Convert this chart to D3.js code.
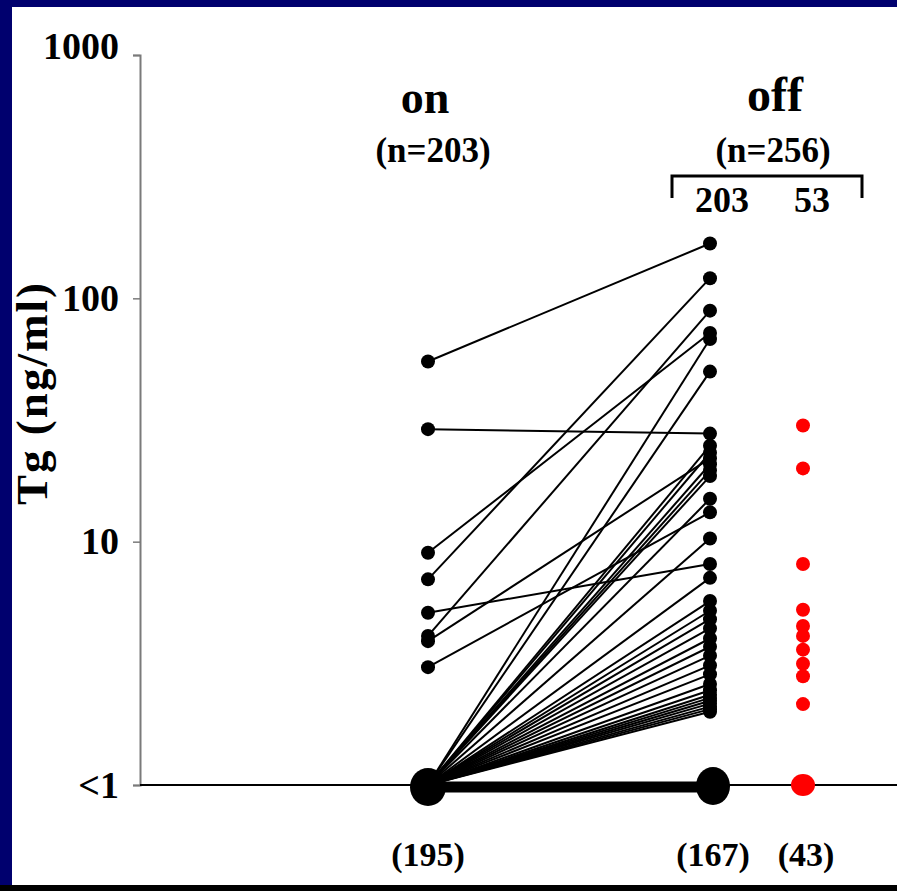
<!DOCTYPE html>
<html><head><meta charset="utf-8">
<script src="https://cdn.jsdelivr.net/npm/d3@7"></script>
<style>body{margin:0;background:#00006e;overflow:hidden}svg{display:block}</style>
</head><body>
<svg id="c" width="897" height="891"></svg>
<script>
// ---- data ----
const columns = ["on", "off", "offNew"];
const columnHeaders = ["on", "off"];
const groupCounts = ["(n=203)", "(n=256)"];
const subGroupLabels = ["203", "53"];
const undetectableLabels = ["(195)", "(167)", "(43)"];
const tickValues = [1000, 100, 10, 1];
const tickLabels = ["1000", "100", "10", "<1"];
const yLabel = "Tg (ng/ml)";
// patients detectable on T4 -> value off T4
const onDetectable = [55, 29, 9, 7, 5.1, 4.1, 3.9, 3.05];
const offOfOnDetectable = [168, 27.8, 72, 121, 8.1, 89, 22, 13.2];
// patients <1 on T4 -> value off T4
const offFromUndetectable = [68, 50, 24.8, 23.2, 20.8, 19.6, 18.6, 15, 10.3, 7.1,
  5.7, 5.2, 4.8, 4.4, 4.0, 3.7, 3.4, 3.1, 2.85, 2.6, 2.45, 2.35, 2.28, 2.22, 2.16, 2.1, 2.05, 2.0];
// additional 53 patients off only
const offNewValues = [30, 20, 8.1, 5.25, 4.5, 4.1, 3.6, 3.15, 2.8, 2.15];
const undetectable = 1;

// ---- drawing ----
const svg = d3.select("#c");
const W = 897, H = 891;
svg.append("rect").attr("width", W).attr("height", H).attr("fill", "#00006e");
svg.append("rect").attr("x", 12).attr("y", 7).attr("width", W - 12).attr("height", 878).attr("fill", "#ffffff");
svg.append("rect").attr("x", 0).attr("y", 885).attr("width", W).attr("height", 6).attr("fill", "#000000");

const font = "'Liberation Serif','Times New Roman',serif";
const y = d3.scaleLog().domain([1, 1000]).range([785, 55]);
const x = d3.scaleOrdinal().domain(columns).range([428, 710, 803]);

// y axis
const axis = svg.append("g").attr("transform", "translate(140,0)")
  .call(d3.axisLeft(y).tickValues(tickValues).tickSize(7).tickPadding(14)
    .tickFormat((d, i) => tickLabels[i]));
axis.select(".domain").attr("stroke", "#7a7a7a").attr("stroke-width", 2);
axis.selectAll(".tick line").attr("stroke", "#7a7a7a").attr("stroke-width", 1.5);
axis.selectAll(".tick text").attr("fill", "#000").attr("font-family", font)
  .attr("font-weight", "bold").attr("font-size", 38);
axis.selectAll(".tick text").filter(d => d === 1000).attr("dy", "0.08em");

svg.append("text").attr("transform", "translate(47,394) rotate(-90)")
  .attr("text-anchor", "middle").attr("font-family", font).attr("font-weight", "bold")
  .attr("font-size", 45).attr("textLength", 222).attr("lengthAdjust", "spacing")
  .text(yLabel);

// baseline at <1
svg.append("line").attr("x1", 140).attr("x2", W).attr("y1", y(undetectable)).attr("y2", y(undetectable))
  .attr("stroke", "#000").attr("stroke-width", 2);
// thick band of <1 -> <1 patients
svg.append("line").attr("x1", x("on")).attr("x2", x("off"))
  .attr("y1", y(undetectable) + 2).attr("y2", y(undetectable) + 2)
  .attr("stroke", "#000").attr("stroke-width", 11);

// connecting lines
const links = onDetectable.map((v, i) => ({a: v, b: offOfOnDetectable[i]}))
  .concat(offFromUndetectable.map(v => ({a: undetectable, b: v})));
svg.append("g").selectAll("line").data(links).join("line")
  .attr("x1", x("on")).attr("y1", d => y(d.a))
  .attr("x2", x("off")).attr("y2", d => y(d.b))
  .attr("stroke", "#000").attr("stroke-width", 2);

// detectable dots
svg.append("g").selectAll("circle").data(onDetectable).join("circle")
  .attr("cx", x("on")).attr("cy", d => y(d)).attr("r", 7).attr("fill", "#000");
svg.append("g").selectAll("circle").data(offOfOnDetectable.concat(offFromUndetectable)).join("circle")
  .attr("cx", x("off")).attr("cy", d => y(d)).attr("r", 7).attr("fill", "#000");
svg.append("g").selectAll("circle").data(offNewValues).join("circle")
  .attr("cx", x("offNew")).attr("cy", d => y(d)).attr("r", 7).attr("fill", "#ff0000");

// undetectable big dots
svg.append("ellipse").attr("cx", x("on")).attr("cy", y(undetectable) + 2).attr("rx", 18).attr("ry", 19).attr("fill", "#000");
svg.append("ellipse").attr("cx", x("off") + 3).attr("cy", y(undetectable) + 1).attr("rx", 17).attr("ry", 19).attr("fill", "#000");
svg.append("ellipse").attr("cx", x("offNew")).attr("cy", y(undetectable)).attr("rx", 12).attr("ry", 11).attr("fill", "#ff0000");

// headers
const txt = (s, cx, cy, size) => svg.append("text").attr("x", cx).attr("y", cy)
  .attr("text-anchor", "middle").attr("font-family", font).attr("font-weight", "bold")
  .attr("font-size", size).attr("fill", "#000").text(s);
txt(columnHeaders[0], x("on") - 3, 113, 46);
txt(columnHeaders[1], 775, 111, 48);
txt(groupCounts[0], 433, 162, 35);
txt(groupCounts[1], 773, 162, 35);
txt(subGroupLabels[0], 722, 212, 36);
txt(subGroupLabels[1], 812, 212, 36);
svg.append("path").attr("d", "M672,198V176H862V198").attr("fill", "none")
  .attr("stroke", "#000").attr("stroke-width", 3);
txt(undetectableLabels[0], x("on"), 866, 34);
txt(undetectableLabels[1], 713, 866, 34);
txt(undetectableLabels[2], 806, 866, 34);
</script>
</body></html>
